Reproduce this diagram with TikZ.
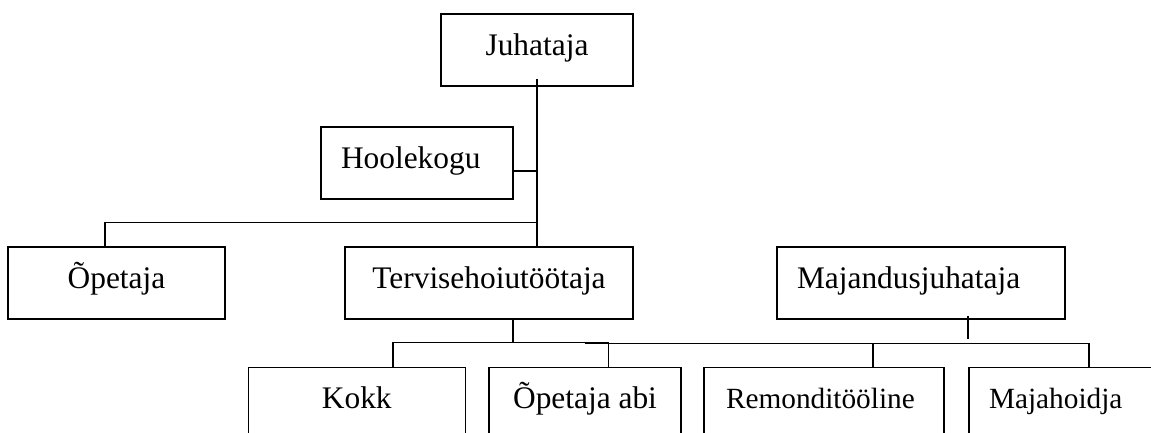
\documentclass[tikz,border=0pt]{standalone}
\usepackage{fontspec}
\setmainfont{Liberation Serif}
\begin{document}
\begin{tikzpicture}[x=1pt,y=-1pt,
  box/.style={draw,rectangle,line width=1.5pt,inner sep=0pt,minimum height=72pt,
    text height=22pt,text depth=12pt,font=\fontsize{31.4}{36}\selectfont},
  lbox/.style={box,align=left},
  small/.style={font=\fontsize{29.3}{34}\selectfont},
  conn/.style={line width=1.5pt}]
\useasboundingbox (0,0) rectangle (1151,432);
\clip (0,0) rectangle (1151,432);
\node[box,minimum width=192pt] (juh) at (537,50) {Juhataja};
\node[lbox,minimum width=192pt,text width=152pt] (hool) at (417,163) {Hoolekogu};
\node[box,minimum width=217pt] (opet) at (116.5,283) {Õpetaja};
\node[box,minimum width=288pt] (terv) at (489,283) {Tervisehoiutöötaja};
\node[lbox,minimum width=288pt,text width=248pt] (maj) at (921,283) {Majandusjuhataja};
\node[box,minimum width=217pt] (kokk) at (356.8,403.5) {Kokk};
\node[box,minimum width=192pt] (abi) at (585,403.5) {Õpetaja abi};
\node[lbox,small,minimum width=240pt,text width=196pt] (rem) at (824,403.5) {Remonditööline};
\node[lbox,small,minimum width=200pt,text width=160pt] (majh) at (1069,403.5) {Majahoidja};
\coordinate (bus1) at (0,222.7);
\coordinate (bus2) at (0,342.7);
\coordinate (b3l) at (584.5,343.3);
\coordinate (b3m) at (0,339);
% Juhataja trunk
\draw[conn] ([yshift=8pt]juh.south) -- (juh.south |- terv.north);
\draw[conn] ([yshift=-8pt]hool.east) -- ([yshift=-8pt]hool.east -| juh.south);
\draw[conn] (juh.south |- bus1) -| ([xshift=-11.5pt]opet.north);
% Tervisehoiutootaja group
\draw[conn] ([xshift=24pt]terv.south) -- ([xshift=24pt]terv.south |- bus2);
\draw[conn] ([xshift=36pt]kokk.north) |- ([xshift=23.6pt]abi.north |- bus2) -- ([xshift=23.6pt]abi.north);
% Majandusjuhataja group
\draw[conn] ([xshift=47pt,yshift=4pt]maj.south) -- ([xshift=47pt]maj.south |- b3m);
\draw[conn] (b3l) -| ([xshift=20pt]majh.north);
\draw[conn] ([xshift=49pt]rem.north) -- ([xshift=49pt]rem.north |- b3l);
\end{tikzpicture}
\end{document}
